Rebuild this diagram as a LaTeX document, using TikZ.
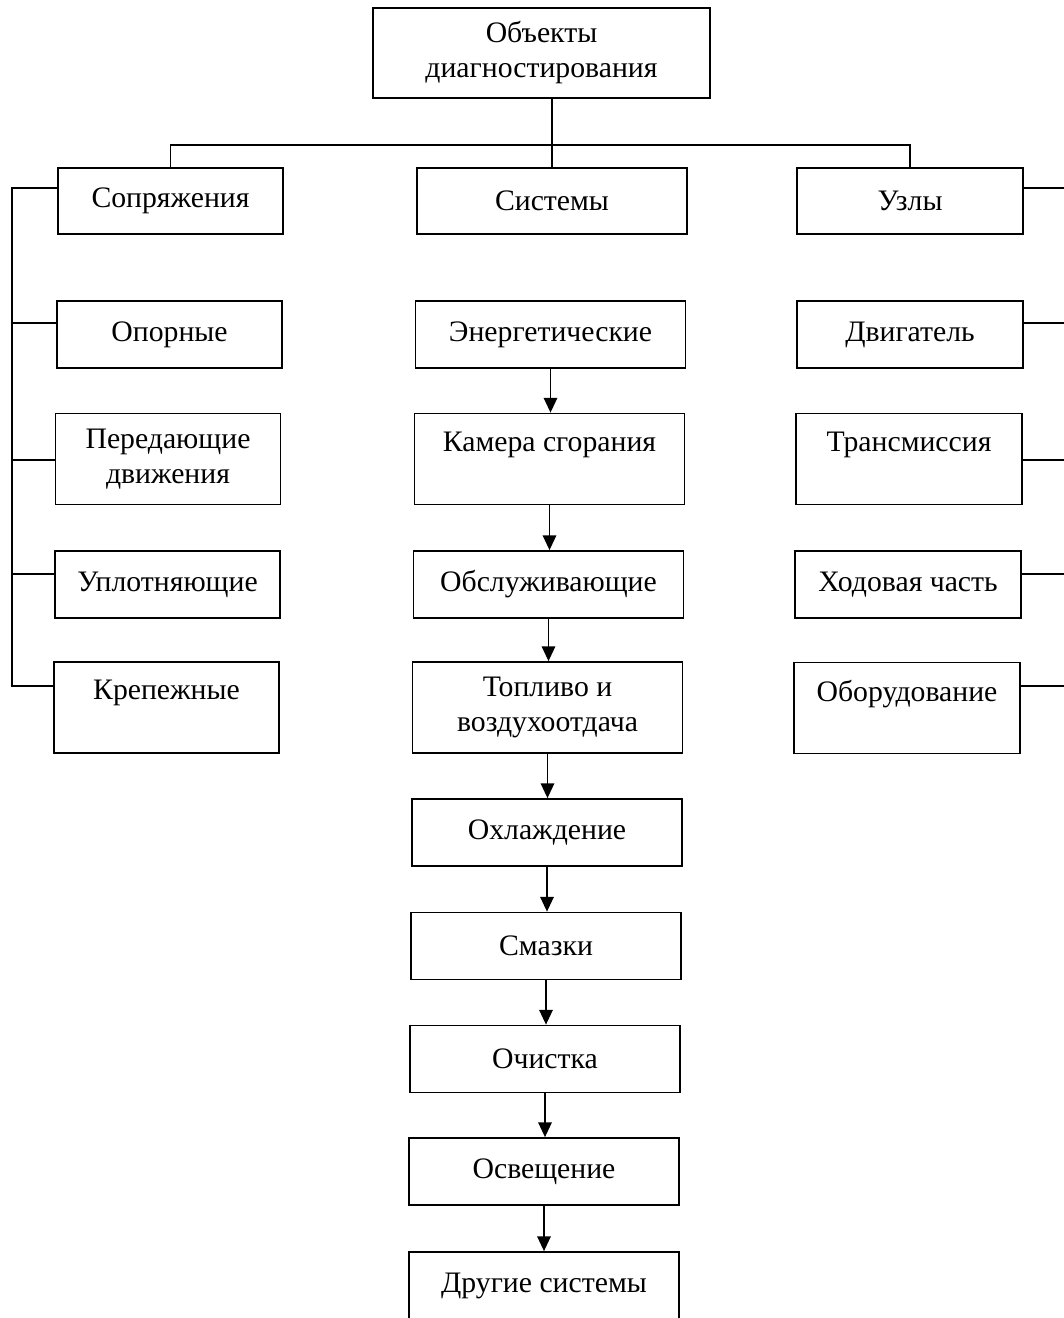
\documentclass[tikz,border=0pt]{standalone}
\usepackage{fontspec}
\setmainfont{Liberation Serif}
\usetikzlibrary{arrows.meta,calc}
\begin{document}
\begin{tikzpicture}[x=0.75pt,y=-0.75pt,
  line width=1.3pt,
  box/.style={draw, line width=1.3pt, rectangle, inner sep=0pt, align=center,
    font=\fontsize{22.3}{26.25}\selectfont, minimum height=50.25pt},
  tall/.style={minimum height=68.25pt},
  wl/.style={minimum width=168.75pt},
  wc/.style={minimum width=202.5pt},
  wr/.style={minimum width=169.5pt},
  arr/.style={-{Triangle[width=10pt,length=11pt]}, line width=1.3pt},
  ln/.style={line width=1.3pt}]
\useasboundingbox (0,0) rectangle (1064,1318);
% top
\node[box, minimum width=252.75pt, minimum height=67.5pt] (obj) at (541.5,53) {Объекты\\диагностирования};
% level 2
\node[box, wl, minimum height=49.5pt] (sop) at (170.5,201) {Сопряжения};
\node[box, wc, minimum height=49.5pt] (sys) at (552,201) {Системы};
\node[box, wr, minimum height=49.5pt] (uz) at (910,201) {Узлы};
% left column
\node[box, wl] (op) at (169.5,334.5) {Опорные};
\node[box, wl, tall] (per) at (168,459) {Передающие\\движения};
\node[box, wl] (upl) at (167.5,584.5) {Уплотняющие};
\node[box, wl, tall] (krep) at (166.5,707.5) {Крепежные\\\phantom{Х}};
% center column
\node[box, wc] (en) at (550.5,334.5) {Энергетические};
\node[box, wc, tall] (kam) at (549.5,459) {Камера сгорания\\\phantom{Х}};
\node[box, wc] (obs) at (548.5,584.5) {Обслуживающие};
\node[box, wc, tall] (top) at (547.5,707.5) {Топливо и\\воздухоотдача};
\node[box, wc] (ohl) at (547,832.5) {Охлаждение};
\node[box, wc] (sm) at (546,946) {Смазки};
\node[box, wc] (och) at (545,1059) {Очистка};
\node[box, wc] (osv) at (544,1171.5) {Освещение};
\node[box, wc] (dr) at (544,1285.5) {Другие системы};
% right column
\node[box, wr] (dv) at (910,334.5) {Двигатель};
\node[box, wr, tall] (tr) at (909,459) {Трансмиссия\\\phantom{Х}};
\node[box, wr] (hod) at (908,584.5) {Ходовая часть};
\node[box, wr, tall] (obor) at (907,708) {Оборудование\\\phantom{Х}};
% top bus
\coordinate (bus) at (552,145);
\draw[ln] (obj.south -| sys.north) -- (sys.north);
\draw[ln] (sop.north) |- (bus) -| (uz.north);
% left bus
\coordinate (l1) at (12,188);
\coordinate (l2) at (12,323);
\coordinate (l3) at (12,460);
\coordinate (l4) at (12,574);
\coordinate (l5) at (12,686);
\draw[ln] (l1 -| sop.west) -- (l1) -- (l5) -- (l5 -| krep.west);
\draw[ln] (l2) -- (l2 -| op.west);
\draw[ln] (l3) -- (l3 -| per.west);
\draw[ln] (l4) -- (l4 -| upl.west);
% right bus (lies just beyond the right edge)
\coordinate (r1) at (1066,188);
\coordinate (r2) at (1066,323);
\coordinate (r3) at (1066,460);
\coordinate (r4) at (1066,574);
\coordinate (r5) at (1066,686);
\draw[ln] (r1 -| uz.east) -- (r1) -- (r5) -- (r5 -| obor.east);
\draw[ln] (r2) -- (r2 -| dv.east);
\draw[ln] (r3) -- (r3 -| tr.east);
\draw[ln] (r4) -- (r4 -| hod.east);
% arrows
\draw[arr] (en.south) -- (en.south |- kam.north);
\draw[arr] (kam.south) -- (kam.south |- obs.north);
\draw[arr] (obs.south) -- (obs.south |- top.north);
\draw[arr] (top.south) -- (top.south |- ohl.north);
\draw[arr] (ohl.south) -- (ohl.south |- sm.north);
\draw[arr] (sm.south) -- (sm.south |- och.north);
\draw[arr] (och.south) -- (och.south |- osv.north);
\draw[arr] (osv.south) -- (osv.south |- dr.north);
\end{tikzpicture}
\end{document}
